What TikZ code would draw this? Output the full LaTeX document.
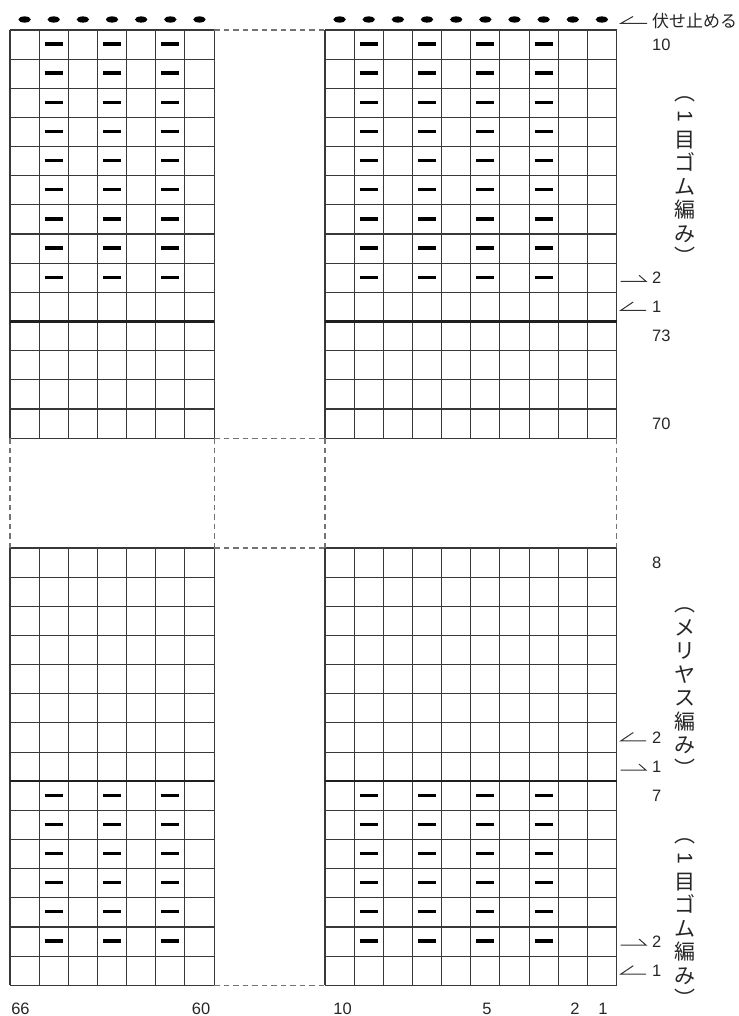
\documentclass[tikz,border=0pt]{standalone}
\usepackage{fontspec}
\setmainfont{Liberation Sans}
\newfontfamily\jp{Noto Sans CJK JP}
\tikzset{
  gridl/.style={draw=black!78, line width=1.1pt},
  thickl/.style={draw=black!88, line width=2.2pt},
  dashl/.style={draw=black!55, line width=1.1pt, dash pattern=on 5.5pt off 4pt},
  purl/.style={draw=black, line width=3.3pt},
  bo/.style={fill=black, draw=none},
  num/.style={font=\fontsize{16.5}{18}\selectfont, inner sep=0pt, text=black!85},
  rnum/.style={num, anchor=west},
  vtext/.style={font=\jp\fontsize{21}{23.5}\selectfont, align=center, inner sep=0pt, text=black!85},
  arr/.style={draw=black!80, line width=1pt},
}
\newcommand\arrL[1]{\draw[arr] ([shift={(-6,3.5)}]#1.west) -- ++(-25.3,0) -- ++(12.6,-8.5);}
\newcommand\arrR[1]{\draw[arr] ([shift={(-31.3,3.5)}]#1.west) -- ++(25.3,0) -- ++(-7,-6);}
\begin{document}
\begin{tikzpicture}[x=1pt,y=-1pt]
\useasboundingbox (0,0) rectangle (738,1016);
\def\c{29.15}
\def\LX{10}
\def\RX{325}
\def\TY{30}
\def\BY{548}
% ---- top block vertical lines
\foreach \i in {0,...,7} \draw[gridl] ({\LX+\i*\c},\TY) -- ({\LX+\i*\c},{\TY+14*\c});
\foreach \i in {0,...,10} \draw[gridl] ({\RX+\i*\c},\TY) -- ({\RX+\i*\c},{\TY+14*\c});
\foreach \j in {0,...,14} {
  \ifnum\j=10 \def\st{thickl}\else\def\st{gridl}\fi
  \draw[\st] (\LX,{\TY+\j*\c}) -- ({\LX+7*\c},{\TY+\j*\c});
  \draw[\st] (\RX,{\TY+\j*\c}) -- ({\RX+10*\c},{\TY+\j*\c});
}
% ---- bottom block
\foreach \i in {0,...,7} \draw[gridl] ({\LX+\i*\c},\BY) -- ({\LX+\i*\c},{\BY+15*\c});
\foreach \i in {0,...,10} \draw[gridl] ({\RX+\i*\c},\BY) -- ({\RX+\i*\c},{\BY+15*\c});
\foreach \j in {0,...,15} {
  \ifnum\j=8 \def\st{thickl}\else\def\st{gridl}\fi
  \draw[\st] (\LX,{\BY+\j*\c}) -- ({\LX+7*\c},{\BY+\j*\c});
  \draw[\st] (\RX,{\BY+\j*\c}) -- ({\RX+10*\c},{\BY+\j*\c});
}
% ---- dashed (omitted) parts
\foreach \y in {\TY,{\TY+14*\c},\BY,{\BY+15*\c}}
  \draw[dashl] ({\LX+7*\c},\y) -- (\RX,\y);
\foreach \x in {\LX,{\LX+7*\c},\RX,{\RX+10*\c}}
  \draw[dashl] (\x,{\TY+14*\c}) -- (\x,\BY);
% ---- purl marks
\foreach \j in {0,...,8} {
  \foreach \i in {1,3,5} \draw[purl] ({\LX+(\i+0.5)*\c-9},{\TY+(\j+0.5)*\c-0.6}) -- ++(18,0);
  \foreach \i in {1,3,5,7} \draw[purl] ({\RX+(\i+0.5)*\c-9},{\TY+(\j+0.5)*\c-0.6}) -- ++(18,0);
}
\foreach \j in {8,...,13} {
  \foreach \i in {1,3,5} \draw[purl] ({\LX+(\i+0.5)*\c-9},{\BY+(\j+0.5)*\c-0.6}) -- ++(18,0);
  \foreach \i in {1,3,5,7} \draw[purl] ({\RX+(\i+0.5)*\c-9},{\BY+(\j+0.5)*\c-0.6}) -- ++(18,0);
}
% ---- bind-off dots
\foreach \i in {0,...,6} \fill[bo] ({\LX+(\i+0.5)*\c},19.5) ellipse (6.2 and 3.1);
\foreach \i in {0,...,9} \fill[bo] ({\RX+(\i+0.5)*\c},19.5) ellipse (6.2 and 3.1);
% ---- labels right
\node[anchor=west, inner sep=0pt, font=\jp\fontsize{17}{18}\selectfont, text=black!85] (bind) at (652,21.5) {伏せ止める};
\draw[arr] ([shift={(-5,1.8)}]bind.west) -- ++(-26,0) -- ++(12,-6.8);
\node[rnum] (n10) at (652,{\TY+0.5*\c}) {10};
\node[rnum] (t2) at (652,{\TY+8.5*\c}) {2};
\node[rnum] (t1) at (652,{\TY+9.5*\c}) {1};
\node[rnum] (n73) at (652,{\TY+10.5*\c}) {73};
\node[rnum] (n70) at (652,{\TY+13.5*\c}) {70};
\node[rnum] (n8) at (652,{\BY+0.5*\c}) {8};
\node[rnum] (m2) at (652,{\BY+6.5*\c}) {2};
\node[rnum] (m1) at (652,{\BY+7.5*\c}) {1};
\node[rnum] (n7) at (652,{\BY+8.5*\c}) {7};
\node[rnum] (b2) at (652,{\BY+13.5*\c}) {2};
\node[rnum] (b1) at (652,{\BY+14.5*\c}) {1};
\arrR{t2}\arrL{t1}
\arrL{m2}\arrR{m1}
\arrR{b2}\arrL{b1}
% ---- vertical texts
\node[vtext] (rib1) at (685,175.3) {\vphantom{目}︵\\\rotatebox[origin=c]{-90}{\fontspec{Liberation Sans}1}\\目\\ゴ\\ム\\編\\み\\\vphantom{目}︶};
\node[vtext] (stock) at (685,686.5) {\vphantom{目}︵\\メ\\リ\\ヤ\\ス\\編\\み\\\vphantom{目}︶};
\node[vtext] (rib2) at (685,917.3) {\vphantom{目}︵\\\rotatebox[origin=c]{-90}{\fontspec{Liberation Sans}1}\\目\\ゴ\\ム\\編\\み\\\vphantom{目}︶};
% ---- labels bottom
\node[num] (s66) at (20.5,1008.5) {66};
\node[num] (s60) at (201,1008.5) {60};
\node[num] (s10) at (342.5,1008.5) {10};
\node[num] (s5) at (487,1008.5) {5};
\node[num] (s2) at (575,1008.5) {2};
\node[num] (s1) at (603,1008.5) {1};
\end{tikzpicture}
\end{document}
